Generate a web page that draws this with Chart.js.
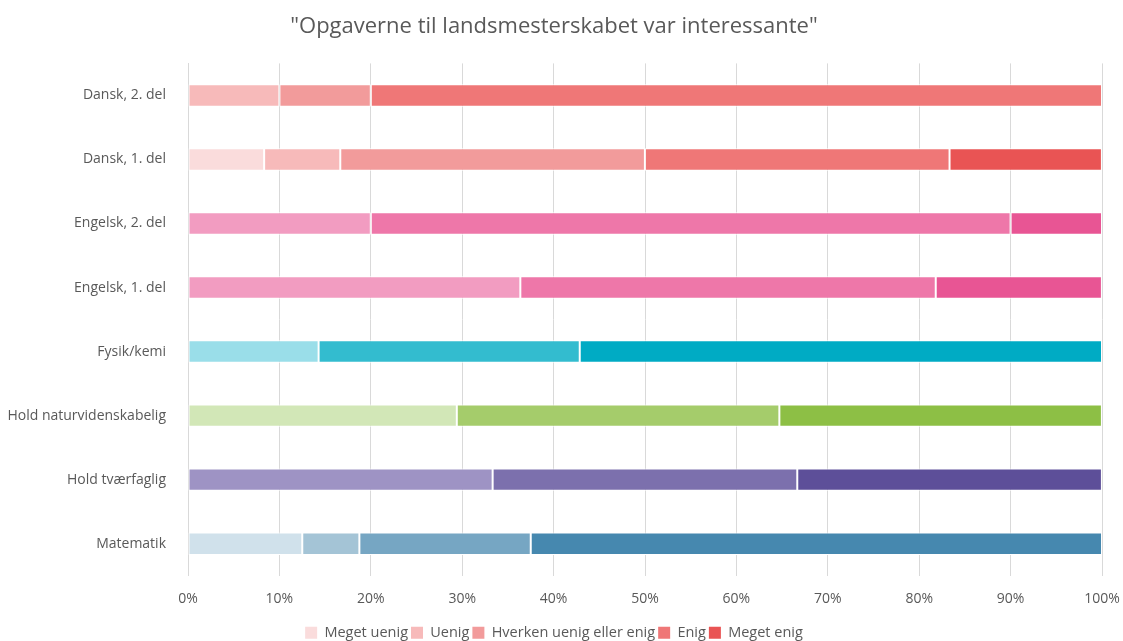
<!DOCTYPE html>
<html>
<head>
<meta charset="utf-8">
<script src="https://cdn.jsdelivr.net/npm/chart.js@4"></script>
<style>
  html, body { margin: 0; padding: 0; background: #fff; }
  #wrap { width: 1123px; height: 641px; position: relative; }
</style>
</head>
<body>
<div id="wrap"><canvas id="chart"></canvas></div>
<script>
const categories = [
  "Dansk, 2. del",
  "Dansk, 1. del",
  "Engelsk, 2. del",
  "Engelsk, 1. del",
  "Fysik/kemi",
  "Hold naturvidenskabelig",
  "Hold tværfaglig",
  "Matematik"
];

const answers = ["Meget uenig", "Uenig", "Hverken uenig eller enig", "Enig", "Meget enig"];

// percent per answer, in category order
const meget_uenig = [0, 8.33, 0, 0, 0, 0, 0, 0];
const uenig       = [10, 8.33, 0, 0, 0, 0, 0, 12.5];
const hverken     = [10, 33.33, 20, 36.36, 14.29, 29.41, 33.33, 6.25];
const enig        = [80, 33.33, 70, 45.45, 28.57, 35.29, 33.33, 18.75];
const meget_enig  = [0, 16.67, 10, 18.18, 57.14, 35.29, 33.33, 62.5];

const xTicks = [0, 10, 20, 30, 40, 50, 60, 70, 80, 90, 100];

// shade per category, light to dark
const red    = ["#fadcdc", "#f7baba", "#f29b9b", "#ef7777", "#e95454"];
const pink   = ["#f7cfe0", "#f5b5d0", "#f29cc1", "#ee77a9", "#e85594"];
const cyan   = ["#cdeff4", "#b3e6ee", "#9adee9", "#33bccf", "#00abc4"];
const green  = ["#e8f3dc", "#dcedc8", "#d2e7b7", "#a5cc6b", "#8dbf45"];
const purple = ["#cfc9e2", "#b8b0d4", "#9e93c4", "#7c70ad", "#5d4f99"];
const blue   = ["#e8f0f5", "#d0e1eb", "#a4c4d6", "#76a6c3", "#4688af"];
const palettes = [red, red, pink, pink, cyan, green, purple, blue];

const series = [meget_uenig, uenig, hverken, enig, meget_enig];

const datasets = series.map((vals, i) => ({
  label: answers[i],
  data: vals,
  backgroundColor: categories.map((c, j) => palettes[j][i]),
  borderColor: "#ffffff",
  borderWidth: 1,
  borderSkipped: false,
  categoryPercentage: 1,
  barPercentage: 0.35
}));

const font = "'Open Sans', 'Liberation Sans', sans-serif";
Chart.defaults.font.family = font;
Chart.defaults.color = "#595959";

new Chart(document.getElementById("chart"), {
  type: "bar",
  data: { labels: categories, datasets: datasets },
  options: {
    indexAxis: "y",
    responsive: true,
    maintainAspectRatio: false,
    animation: false,
    layout: { padding: { left: 6, right: 21, top: 0, bottom: -9 } },
    scales: {
      x: {
        stacked: true,
        min: 0,
        max: 100,
        afterBuildTicks: (axis) => { axis.ticks = xTicks.map(v => ({ value: v })); },
        afterFit: (axis) => { axis.paddingLeft = 0; axis.paddingRight = 0; },
        ticks: { callback: v => v + "%", font: { size: 14 }, color: "#595959", padding: 15 },
        grid: { color: "#d9d9d9", lineWidth: 1, drawTicks: false },
        border: { display: false }
      },
      y: {
        stacked: true,
        afterFit: (axis) => { axis.width = 182; },
        ticks: { font: { size: 14 }, color: "#595959", padding: 14 },
        grid: { display: false },
        border: { display: true, color: "#d9d9d9" }
      }
    },
    plugins: {
      title: {
        display: true,
        text: "\"Opgaverne til landsmesterskabet var interessante\"",
        font: { size: 22, weight: "normal" },
        color: "#595959",
        padding: { top: 14, bottom: 23 }
      },
      legend: {
        position: "bottom",
        labels: {
          boxWidth: 12,
          boxHeight: 12,
          font: { size: 14.5 },
          color: "#595959",
          padding: 3,
          generateLabels: (chart) => answers.map((a, i) => ({
            text: a,
            fillStyle: red[i],
            strokeStyle: red[i],
            lineWidth: 0,
            datasetIndex: i,
            fontColor: "#595959"
          }))
        }
      },
      tooltip: { enabled: false }
    }
  }
});
</script>
</body>
</html>
